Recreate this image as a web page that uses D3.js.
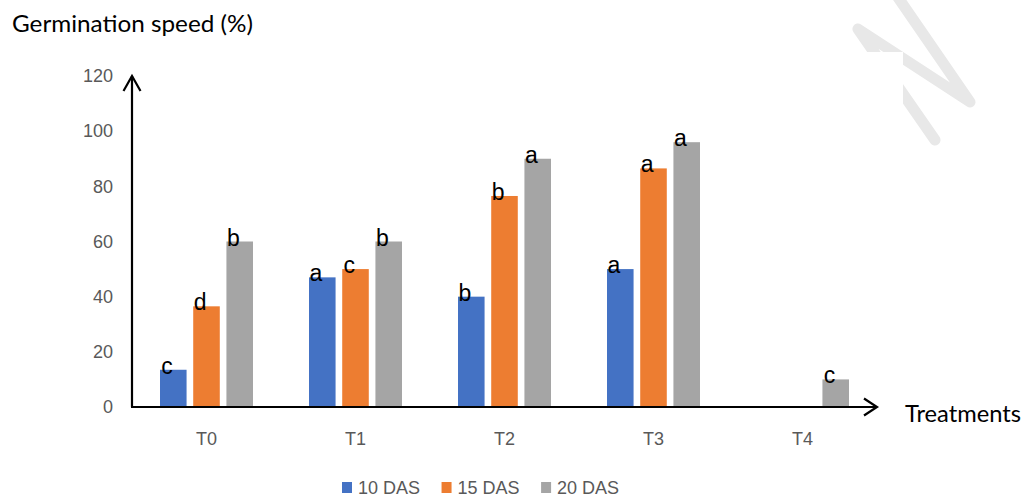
<!DOCTYPE html>
<html>
<head>
<meta charset="utf-8">
<script src="https://cdn.jsdelivr.net/npm/d3@7"></script>
<style>
  body { margin: 0; background: #fff; }
  svg { display: block; }
</style>
</head>
<body>
<svg id="chart" width="1027" height="497"></svg>
<script>
// datos
const categories = ["T0", "T1", "T2", "T3", "T4"];
const series = ["10 DAS", "15 DAS", "20 DAS"];
const das10 = [13.5, 47, 40, 50, 0];
const das15 = [36.5, 50, 76.5, 86.5, 0];
const das20 = [60, 60, 90, 96, 10];
const letters10 = ["c", "a", "b", "a", ""];
const letters15 = ["d", "c", "b", "a", ""];
const letters20 = ["b", "b", "a", "a", "c"];
const yTicks = [0, 20, 40, 60, 80, 100, 120];
const colors = ["#4472C4", "#ED7D31", "#A5A5A5"];

const values = [das10, das15, das20];
const letters = [letters10, letters15, letters20];

const svg = d3.select("#chart");

// marca de agua de fondo
const defs = svg.append("defs");
defs.append("clipPath").attr("id", "wm-clip")
  .append("path")
  .attr("d", "M840,-10 H1027 V200 H903 V52 H840 Z");
svg.append("path")
  .attr("d", "M897,-4 L970,102 L858,29 L935,140")
  .attr("fill", "none")
  .attr("stroke", "#e8e8e8")
  .attr("stroke-width", 11)
  .attr("stroke-linecap", "round")
  .attr("stroke-linejoin", "round")
  .attr("clip-path", "url(#wm-clip)");

const mLeft = 132, mRight = 877, mBottom = 407, mTop = 76;

const x0 = d3.scaleBand().domain(categories).range([mLeft, mRight]);
const x1 = d3.scaleBand().domain(series).range([28, 121]).paddingInner(0.2);
const y = d3.scaleLinear().domain([0, 120]).range([mBottom, mTop]);

// filas para las barras
const rows = [];
categories.forEach((c, i) => {
  series.forEach((s, j) => {
    rows.push({ cat: c, serie: s, value: values[j][i], letter: letters[j][i], color: colors[j] });
  });
});

// barras
svg.append("g")
  .selectAll("rect")
  .data(rows.filter(d => d.value > 0))
  .join("rect")
  .attr("x", d => x0(d.cat) + x1(d.serie))
  .attr("y", d => y(d.value))
  .attr("width", x1.bandwidth())
  .attr("height", d => y(0) - y(d.value))
  .attr("fill", d => d.color);

// letras de significancia
svg.append("g")
  .selectAll("text")
  .data(rows.filter(d => d.letter))
  .join("text")
  .attr("x", d => x0(d.cat) + x1(d.serie) + 7)
  .attr("y", d => y(d.value) + 4)
  .attr("text-anchor", "middle")
  .attr("font-family", "Liberation Sans, Arial, sans-serif")
  .attr("font-size", 23)
  .attr("fill", "#000")
  .text(d => d.letter);

// eje Y (solo etiquetas)
const yAxis = svg.append("g")
  .attr("transform", `translate(${mLeft},0)`)
  .call(d3.axisLeft(y).tickValues(yTicks).tickSize(0).tickPadding(19));
yAxis.select(".domain").remove();
yAxis.selectAll("text")
  .attr("font-family", "Liberation Sans, Arial, sans-serif")
  .attr("font-size", 18)
  .attr("fill", "#595959");

// eje X (solo etiquetas)
const xAxis = svg.append("g")
  .attr("transform", `translate(0,${mBottom})`)
  .call(d3.axisBottom(x0).tickSize(0).tickPadding(25));
xAxis.select(".domain").remove();
xAxis.selectAll("text")
  .attr("font-family", "Liberation Sans, Arial, sans-serif")
  .attr("font-size", 18)
  .attr("fill", "#595959");

// lineas de ejes con flechas abiertas
const axisLines = svg.append("g")
  .attr("fill", "none")
  .attr("stroke", "#000")
  .attr("stroke-width", 2.2);
axisLines.append("path")
  .attr("d", `M${mLeft},${mBottom} V${mTop}`);
axisLines.append("path")
  .attr("d", `M${mLeft - 8.5},${mTop + 15} L${mLeft},${mTop} L${mLeft + 8.5},${mTop + 15}`);
axisLines.append("path")
  .attr("d", `M${mLeft - 1},${mBottom} H${mRight}`);
axisLines.append("path")
  .attr("d", `M${mRight - 13},${mBottom - 8.5} L${mRight},${mBottom} L${mRight - 13},${mBottom + 8.5}`);

// titulos
svg.append("text")
  .attr("x", 12)
  .attr("y", 32)
  .attr("font-family", "Lato, Open Sans, sans-serif")
  .attr("font-size", 24)
  .attr("fill", "#000")
  .attr("textLength", 241)
  .attr("lengthAdjust", "spacingAndGlyphs")
  .text("Germination speed (%)");

svg.append("text")
  .attr("x", 905)
  .attr("y", 422)
  .attr("font-family", "Lato, Open Sans, sans-serif")
  .attr("font-size", 24)
  .attr("fill", "#000")
  .attr("textLength", 116)
  .attr("lengthAdjust", "spacingAndGlyphs")
  .text("Treatments");

// leyenda
const legend = svg.append("g").attr("transform", "translate(342,480)");
let lx = 0;
series.forEach((s, j) => {
  const item = legend.append("g").attr("transform", `translate(${lx},0)`);
  item.append("rect")
    .attr("y", 2)
    .attr("width", 10)
    .attr("height", 11)
    .attr("fill", colors[j]);
  const t = item.append("text")
    .attr("x", 16)
    .attr("y", 14)
    .attr("font-family", "Liberation Sans, Arial, sans-serif")
    .attr("font-size", 18)
    .attr("fill", "#595959")
    .text(s);
  lx += 16 + t.node().getComputedTextLength() + 21.5;
});
</script>
</body>
</html>
